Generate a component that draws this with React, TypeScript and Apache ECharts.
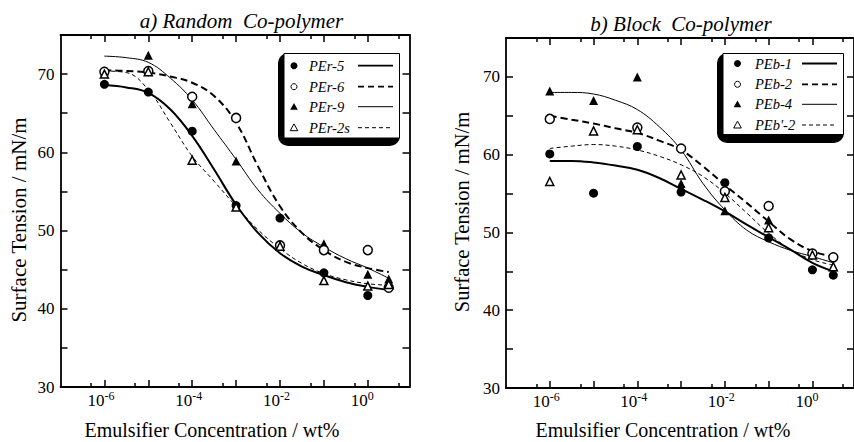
import React, { useEffect, useRef } from 'react';
import * as echarts from 'echarts';

// Emulsifier concentration (wt%) of measured points
const conc = [1e-6, 1e-5, 1e-4, 1e-3, 1e-2, 1e-1, 1, 3];
// Concentrations at which fitted curves are read
const fitConc = [1e-6, 3.16e-6, 1e-5, 3.16e-5, 1e-4, 3.16e-4, 1e-3, 3.16e-3, 1e-2, 3.16e-2, 1e-1, 3.16e-1, 1, 3];

// a) Random co-polymer – measured surface tension (mN/m)
const PEr5 = [68.7, 67.7, 62.7, 53.2, 51.6, 44.6, 41.7, null];
const PEr6 = [70.3, 70.4, 67.1, 64.4, 48.1, 47.5, 47.5, 42.7];
const PEr9 = [70.4, 72.4, 66.2, 58.9, null, 48.3, 44.4, 43.8];
const PEr2s = [70.0, 70.3, 59.0, 53.0, 48.0, 43.6, 42.9, 43.1];
// fitted curves
const PEr5Fit = [68.6, 68.3, 67.6, 65.5, 62.1, 57.8, 53.3, 49.7, 47.1, 45.4, 44.3, 43.4, 42.8, 42.4];
const PEr6Fit = [70.5, 70.4, 70.2, 69.7, 68.9, 67.2, 63.8, 58.2, 53.1, 49.7, 47.5, 46.0, 45.2, 44.7];
const PEr9Fit = [72.3, 72.1, 71.5, 69.5, 66.7, 62.9, 59.1, 55.2, 52.2, 49.7, 47.9, 46.4, 45.2, 43.9];
const PEr2sFit = [70.4, 70.2, 68.0, 63.8, 59.5, 56.3, 53.1, 50.1, 47.7, 45.8, 44.5, 43.7, 43.2, 43.0];

// b) Block co-polymer – measured surface tension (mN/m)
const PEb1 = [60.1, 55.05, 61.05, 55.2, 56.4, 49.3, 45.2, 44.5];
const PEb2 = [64.6, null, 63.5, 60.8, 55.3, 53.4, 47.3, 46.8];
const PEb4 = [68.2, 66.95, 70.0, 56.3, 52.8, 51.6, 47.2, 45.6];
const PEb2p = [56.55, 63.05, 63.2, 57.4, 54.5, 50.6, 47.1, 45.6];
const PEb1Fit = [59.2, 59.2, 59.0, 58.6, 58.05, 57.0, 55.6, 54.2, 52.7, 51.0, 49.4, 47.8, 46.1, 45.0];
const PEb2Fit = [65.0, 64.5, 64.0, 63.4, 62.8, 61.8, 60.6, 58.5, 56.1, 53.8, 51.4, 49.1, 47.6, 46.9];
const PEb4Fit = [68.0, 68.0, 67.8, 67.0, 65.8, 63.6, 60.6, 56.3, 52.9, 50.3, 48.8, 47.7, 46.9, 46.1];
const PEb2pFit = [60.8, 61.1, 61.3, 61.1, 60.6, 59.8, 58.7, 57.2, 55.05, 52.5, 49.9, 47.8, 46.5, 45.8];

// axis ticks (exponents of 10)
const majorExp = [-6, -5, -4, -3, -2, -1, 0];
const minorExp = [-6.301, -5.301, -4.301, -3.301, -2.301, -1.301, -0.301, 0.699];
const labelExp = [-6, -4, -2, 0];
const yLabels = [30, 40, 50, 60, 70];

const titles = ['a) Random  Co-polymer', 'b) Block  Co-polymer'];
const namesA = ['PEr-5', 'PEr-6', 'PEr-9', 'PEr-2s'];
const namesB = ['PEb-1', 'PEb-2', 'PEb-4', "PEb'-2"];

const FONT = 'Liberation Serif, Times New Roman, serif';

type Style = { symbol: string; filled: boolean; lw: number; dash: number[] | 'solid' };
const styles: Style[] = [
  { symbol: 'circle', filled: true, lw: 2, dash: 'solid' },
  { symbol: 'circle', filled: false, lw: 2, dash: [7, 4] },
  { symbol: 'triangle', filled: true, lw: 1, dash: 'solid' },
  { symbol: 'triangle', filled: false, lw: 1, dash: [4, 3] },
];

const grids = [
  { left: 60.5, top: 35, width: 349, height: 352 },
  { left: 506, top: 38, width: 348.5, height: 350 },
];

function pts(vals: (number | null)[]) {
  const out: number[][] = [];
  conc.forEach((c, i) => {
    const v = vals[i];
    if (v != null) out.push([Math.log10(c), v]);
  });
  return out;
}
function fit(vals: number[]) {
  return fitConc.map((c, i) => [Math.log10(c), vals[i]]);
}

export default function App() {
  const ref = useRef<HTMLDivElement>(null);
  useEffect(() => {
    if (!ref.current) return;
    const chart = echarts.init(ref.current, undefined, { renderer: 'svg' });

    const xAxes: any[] = [];
    const yAxes: any[] = [];
    const axisLine = { show: true, onZero: false, lineStyle: { color: '#000', width: 1.8 } };
    const tickStyle = { color: '#000', width: 1.5 };
    grids.forEach((_, g) => {
      const base = { type: 'value', gridIndex: g, min: -7, max: 0.95, splitLine: { show: false } };
      // major ticks + base "10" of each label (ends at the tick)
      xAxes.push({
        ...base,
        position: 'bottom',
        axisLine,
        axisTick: { show: true, inside: true, length: 7, customValues: majorExp, lineStyle: tickStyle },
        axisLabel: {
          customValues: labelExp,
          margin: 5,
          fontFamily: FONT,
          fontSize: 17,
          color: '#000',
          align: 'right',
          formatter: () => '10',
        },
      });
      // minor ticks + exponent (superscript) of each label (starts at the tick)
      xAxes.push({
        ...base,
        position: 'bottom',
        axisLine: { show: false, onZero: false },
        axisTick: { show: true, inside: true, length: 4, customValues: minorExp, lineStyle: tickStyle },
        axisLabel: {
          customValues: labelExp,
          margin: 3,
          fontFamily: FONT,
          fontSize: 12,
          color: '#000',
          align: 'left',
          formatter: (v: number) => String(v),
        },
      });
      xAxes.push({
        ...base,
        position: 'top',
        axisLine,
        axisTick: { show: true, inside: true, length: 7, customValues: majorExp, lineStyle: tickStyle },
        axisLabel: { show: false },
      });
      xAxes.push({
        ...base,
        position: 'top',
        axisLine: { show: false, onZero: false },
        axisTick: { show: true, inside: true, length: 4, customValues: minorExp, lineStyle: tickStyle },
        axisLabel: { show: false },
      });
      const ybase = { type: 'value', gridIndex: g, min: 30, max: 75, interval: 5, splitLine: { show: false } };
      yAxes.push({
        ...ybase,
        position: 'left',
        axisLine,
        axisTick: { show: true, inside: true, length: 7, lineStyle: tickStyle },
        axisLabel: { customValues: yLabels, fontFamily: FONT, fontSize: 17, color: '#000', margin: 6 },
      });
      yAxes.push({
        ...ybase,
        position: 'right',
        axisLine,
        axisTick: { show: true, inside: true, length: 7, lineStyle: tickStyle },
        axisLabel: { show: false },
      });
    });

    const panels = [
      { names: namesA, data: [PEr5, PEr6, PEr9, PEr2s], fits: [PEr5Fit, PEr6Fit, PEr9Fit, PEr2sFit] },
      { names: namesB, data: [PEb1, PEb2, PEb4, PEb2p], fits: [PEb1Fit, PEb2Fit, PEb4Fit, PEb2pFit] },
    ];

    const series: any[] = [];
    panels.forEach((p, g) => {
      p.names.forEach((name, k) => {
        const st = styles[k];
        series.push({
          type: 'line',
          name: name + ' fit',
          xAxisIndex: g * 4,
          yAxisIndex: g * 2,
          data: fit(p.fits[k]),
          smooth: 0.4,
          showSymbol: false,
          symbol: 'none',
          lineStyle: { color: '#000', width: st.lw, type: st.dash, opacity: 1 },
          z: 2,
          silent: true,
        });
        series.push({
          type: 'scatter',
          name,
          xAxisIndex: g * 4,
          yAxisIndex: g * 2,
          data: pts(p.data[k]),
          symbol: st.symbol,
          symbolSize: st.filled ? 9 : st.symbol === 'triangle' ? 8 : 9,
          itemStyle: st.filled
            ? { color: '#000', opacity: 1 }
            : { color: '#fff', borderColor: '#000', borderWidth: 1.5, opacity: 1 },
          z: st.filled ? 4 : 5,
          silent: true,
        });
      });
    });

    // legend boxes
    const legendBoxes = [
      { bx: 278, by: 53, bw: 122, bh: 93, wx: 284, wy: 53.5, ww: 115.5, wh: 84.5, mx: 294, tx: 309, lx1: 358, lx2: 393, rows: [65.7, 86.7, 106.7, 127.7], names: namesA },
      { bx: 717, by: 53, bw: 127, bh: 90, wx: 723, wy: 53.5, ww: 120.5, wh: 81, mx: 737.5, tx: 755, lx1: 802, lx2: 837, rows: [63.5, 84.3, 104.3, 125], names: namesB },
    ];
    const graphic: any[] = [];
    legendBoxes.forEach((L) => {
      graphic.push({ type: 'rect', shape: { x: L.bx, y: L.by, width: L.bw, height: L.bh, r: 10 }, style: { fill: '#000' }, z: 20 });
      graphic.push({ type: 'rect', shape: { x: L.wx, y: L.wy, width: L.ww, height: L.wh }, style: { fill: '#fff', stroke: '#000', lineWidth: 1 }, z: 21 });
      L.rows.forEach((y, k) => {
        const st = styles[k];
        const fill = st.filled ? '#000' : '#fff';
        if (st.symbol === 'circle') {
          graphic.push({ type: 'circle', shape: { cx: L.mx, cy: y, r: st.filled ? 3.5 : 3 }, style: { fill, stroke: '#000', lineWidth: st.filled ? 0 : 1 }, z: 22 });
        } else {
          graphic.push({ type: 'polygon', shape: { points: [[L.mx, y - 3.8], [L.mx - 3.8, y + 3], [L.mx + 3.8, y + 3]] }, style: { fill, stroke: '#000', lineWidth: st.filled ? 0 : 1 }, z: 22 });
        }
        graphic.push({ type: 'text', x: L.tx, y, style: { text: L.names[k], fontFamily: FONT, fontStyle: 'italic', fontSize: 14.5, fill: '#000', verticalAlign: 'middle', align: 'left' }, z: 22 });
        graphic.push({ type: 'line', shape: { x1: L.lx1, y1: y, x2: L.lx2, y2: y }, style: { stroke: '#000', lineWidth: st.lw === 2 ? 1.8 : 1, lineDash: st.dash === 'solid' ? null : (k === 1 ? [6, 4] : [4, 3]) }, z: 22 });
      });
    });
    // titles and axis names
    const txt = (x: number, y: number, text: string, size: number, italic = false, rotation = 0) => ({
      type: 'text', x, y, rotation,
      style: { text, fontFamily: FONT, fontStyle: italic ? 'italic' : 'normal', fontSize: size, fill: '#000', align: 'center', verticalAlign: 'middle' },
    });
    graphic.push(txt(241.5, 21, titles[0], 21, true));
    graphic.push(txt(681, 24, titles[1], 21, true));
    graphic.push(txt(212, 429.5, 'Emulsifier Concentration / wt%', 20));
    graphic.push(txt(663, 429.5, 'Emulsifier Concentration / wt%', 20));
    graphic.push(txt(19, 220, 'Surface Tension / mN/m', 21, false, Math.PI / 2));
    graphic.push(txt(462, 212, 'Surface Tension / mN/m', 20.5, false, Math.PI / 2));

    chart.setOption({
      animation: false,
      backgroundColor: '#fff',
      grid: grids.map((g) => ({ ...g, containLabel: false })),
      xAxis: xAxes,
      yAxis: yAxes,
      series,
      graphic,
    });
    return () => chart.dispose();
  }, []);
  return <div ref={ref} style={{ position: 'fixed', left: 0, top: 0, width: 854, height: 442 }} />;
}
